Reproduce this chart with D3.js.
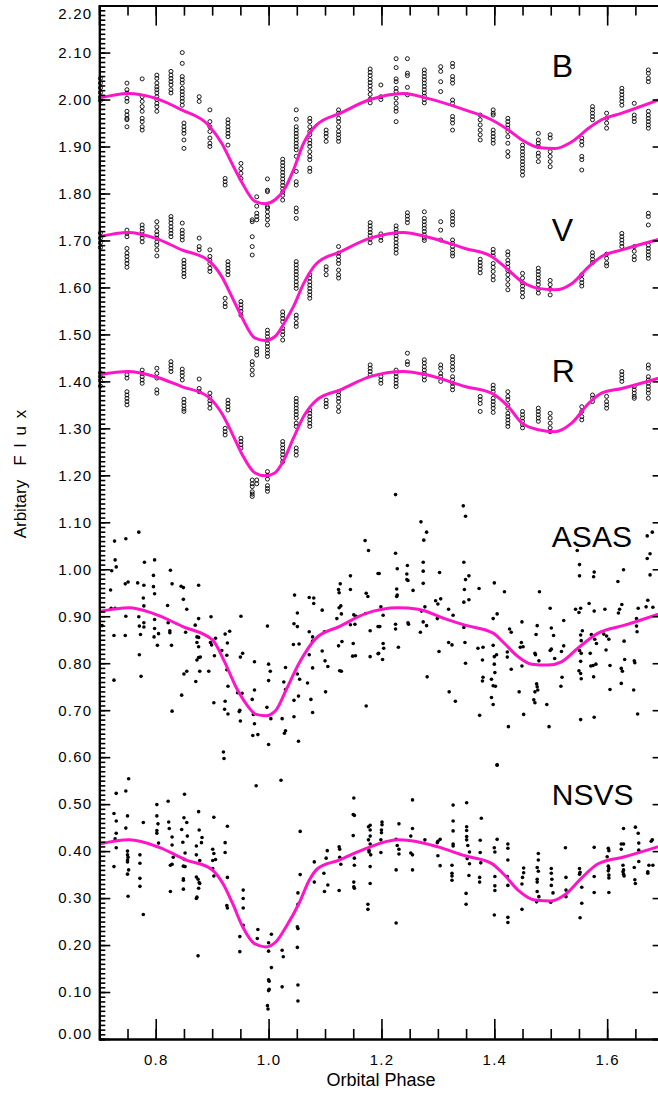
<!DOCTYPE html>
<html><head><meta charset="utf-8">
<script src="https://cdn.jsdelivr.net/npm/d3@7"></script>
<style>
body{margin:0;background:#fff}
svg{display:block}
text{font-family:"Liberation Sans",Arial,Helvetica,sans-serif}
</style>
</head><body>
<svg id="c" width="658" height="1095"></svg>
<script>
// ---------- DATA ----------
const xTickLabels = [0.8, 1.0, 1.2, 1.4, 1.6];
const yTickLabels = [0,0.1,0.2,0.3,0.4,0.5,0.6,0.7,0.8,0.9,1.0,1.1,1.2,1.3,1.4,1.5,1.6,1.7,1.8,1.9,2.0,2.1,2.2];

// nights of the B, V, R photometry (phase of each cluster)
const nightPhase = [0.702,0.749,0.776,0.802,0.827,0.847,0.850,0.877,0.896,0.923,0.928,0.951,0.971,0.979,0.998,1.025,1.049,1.073,1.102,1.124,1.180,1.199,1.226,1.246,1.276,1.305,1.326,1.375,1.398,1.424,1.450,1.478,1.499,1.555,1.574,1.599,1.626,1.648,1.673];

const bFlux = [
[2.045,2.035,2.025,2.015,2.005,1.998],
[2.035,2.021,2.014,2.003,1.996,1.975,1.967,1.960,1.957,1.942],
[2.044,2.006,1.996,1.985,1.975,1.960,1.953,1.942,1.935],
[2.052,2.045,2.035,2.027,2.021,2.014,2.006,2.000,1.992,1.985,1.975],
[2.060,2.052,2.045,2.038,2.031,2.021,2.014],
[2.100,2.077,2.049,2.042,2.035,2.024,2.017,2.010,2.003,1.996,1.988],
[1.950,1.942,1.935,1.928,1.914,1.896],
[2.006,1.996],
[1.978,1.953,1.942,1.932,1.918,1.907,1.900],
[1.832,1.825,1.818],
[1.957,1.950,1.942,1.935,1.928,1.921,1.903],
[1.864,1.853,1.843,1.832],
[1.744,1.740,1.708,1.687,1.669],
[1.793,1.773,1.758,1.751,1.744],
[1.831,1.807,1.804,1.772,1.769,1.761,1.752,1.744,1.733],
[1.873,1.866,1.859,1.852,1.845,1.838,1.831,1.824,1.817,1.810,1.803,1.796,1.786],
[1.978,1.958,1.942,1.935,1.928,1.921,1.914,1.907,1.900,1.893,1.879,1.847,1.825,1.818,1.769,1.761,1.747],
[1.960,1.953,1.942,1.932,1.925,1.914,1.907,1.900,1.889,1.879,1.872,1.854,1.847],
[1.935,1.928,1.921,1.911],
[1.978,1.971,1.960,1.953,1.942,1.932,1.925,1.918,1.911],
[2.065,2.058,2.051,2.043,2.036,2.029,2.021,2.011,2.001,1.993],
[2.031,2.006,2.000],
[2.087,2.068,2.044,2.038,2.024,2.017,2.003,1.992,1.982,1.975,1.953],
[2.087,2.056,2.051,2.026,2.010],
[2.063,2.056,2.049,2.042,2.035,2.028,2.021,2.014,2.007,2.000,1.993],
[2.070,2.060,2.038,2.017],
[2.077,2.070,2.049,2.042,2.035,1.999,1.992,1.964,1.957,1.950,1.935],
[1.967,1.957,1.946,1.935,1.925,1.914],
[1.978,1.971,1.967,1.935,1.928,1.921,1.914,1.907],
[1.960,1.953,1.946,1.939,1.932,1.921,1.907,1.889,1.879],
[1.903,1.896,1.889,1.882,1.875,1.868,1.861,1.854,1.847,1.839],
[1.928,1.914,1.907,1.900,1.886,1.879,1.868],
[1.925,1.918,1.889,1.879,1.868,1.857],
[1.918,1.911,1.903,1.879,1.872,1.850],
[1.985,1.978,1.971,1.964,1.957],
[1.971,1.960,1.950,1.939],
[2.024,2.017,2.010,2.003,1.996,1.988],
[1.992,1.967,1.960,1.953],
[2.063,2.056,2.045,2.038,1.975,1.967,1.960,1.953,1.946,1.939]
];

const vFlux = [
[1.716,1.705,1.695,1.685],
[1.722,1.715,1.708,1.683,1.673,1.666,1.658,1.651,1.643],
[1.733,1.726,1.719,1.712,1.705,1.697],
[1.740,1.729,1.719,1.712,1.705,1.697,1.690,1.680,1.667],
[1.751,1.744,1.737,1.729,1.722,1.715,1.708],
[1.737,1.722,1.715,1.708,1.701],
[1.658,1.651,1.644,1.637,1.630,1.623],
[1.705,1.687,1.680],
[1.680,1.666,1.658,1.651,1.641,1.634],
[1.577,1.566,1.559],
[1.655,1.648,1.641,1.634,1.627],
[1.570,1.563,1.556,1.549,1.541],
[1.442,1.435,1.424,1.414],
[1.470,1.463,1.456],
[1.509,1.502,1.495,1.488,1.481,1.474,1.467,1.460,1.453],
[1.548,1.541,1.534,1.527,1.513,1.506,1.499,1.488],
[1.655,1.648,1.641,1.634,1.627,1.620,1.612,1.605,1.598,1.541,1.534,1.524,1.517],
[1.627,1.620,1.612,1.605,1.598,1.591,1.584,1.577],
[1.644,1.637,1.627],
[1.687,1.673,1.666,1.658,1.651,1.637,1.627,1.620],
[1.738,1.731,1.724,1.717,1.710,1.703,1.695],
[1.714,1.707,1.700],
[1.731,1.724,1.717,1.710,1.703,1.695,1.688,1.681,1.673],
[1.759,1.752,1.745,1.738],
[1.761,1.747,1.740,1.733,1.726,1.719,1.712,1.705,1.700],
[1.740,1.722,1.701],
[1.761,1.754,1.747,1.740,1.733,1.701,1.694,1.687,1.680,1.673,1.667],
[1.660,1.653,1.646,1.639,1.631],
[1.681,1.674,1.667,1.651,1.643,1.634,1.624,1.616],
[1.676,1.669,1.658,1.651,1.643,1.636,1.627,1.617,1.606,1.595],
[1.630,1.620,1.610,1.603,1.596,1.589,1.580],
[1.641,1.634,1.627,1.620,1.613,1.606,1.596,1.588],
[1.615,1.606,1.596,1.584],
[1.627,1.617,1.610,1.603],
[1.674,1.667,1.660,1.653],
[1.671,1.662,1.652,1.646],
[1.715,1.708,1.701,1.694,1.687],
[1.687,1.677,1.666,1.659],
[1.758,1.751,1.733,1.690,1.683,1.676,1.669,1.662]
];

const rFlux = [
[1.418,1.410,1.402,1.390],
[1.414,1.407,1.378,1.371,1.364,1.357,1.350],
[1.424,1.417,1.410,1.403,1.396],
[1.428,1.417,1.407,1.382,1.375],
[1.442,1.435,1.428,1.421],
[1.426,1.419,1.412,1.403],
[1.362,1.355,1.348,1.341,1.336],
[1.405,1.385,1.378],
[1.375,1.366,1.359,1.352,1.343],
[1.300,1.293,1.286],
[1.360,1.353,1.346,1.339],
[1.279,1.272,1.265,1.258],
[1.190,1.182,1.176,1.165,1.160,1.155],
[1.190,1.182],
[1.208,1.200,1.192,1.178,1.172,1.166],
[1.272,1.265,1.258,1.251,1.244,1.237,1.229],
[1.364,1.357,1.350,1.343,1.336,1.329,1.322,1.311,1.304,1.258,1.251,1.243],
[1.339,1.332,1.325,1.318,1.311,1.304],
[1.360,1.353,1.346],
[1.378,1.371,1.364,1.357,1.346,1.336],
[1.435,1.428,1.421,1.414],
[1.410,1.403,1.396],
[1.424,1.417,1.410,1.403,1.396,1.389],
[1.460,1.442,1.436],
[1.446,1.439,1.431,1.424,1.417,1.410,1.403],
[1.435,1.428,1.417,1.410,1.400],
[1.453,1.446,1.439,1.431,1.424,1.410,1.403,1.396,1.389,1.382],
[1.368,1.361,1.353,1.336],
[1.392,1.385,1.378,1.364,1.357,1.350,1.343,1.334],
[1.378,1.368,1.361,1.350,1.343,1.332,1.325,1.318,1.311,1.304],
[1.336,1.329,1.322,1.315,1.308,1.301],
[1.343,1.336,1.329,1.322,1.315],
[1.332,1.322,1.311,1.301,1.293],
[1.346,1.336,1.325,1.318],
[1.371,1.364,1.357],
[1.368,1.357,1.350,1.343],
[1.421,1.414,1.407,1.400],
[1.389,1.382,1.375,1.368,1.364],
[1.435,1.428,1.410,1.403,1.396,1.389,1.382,1.375,1.364]
];

// ASAS [phase, flux]
const asasPoints = [
[0.727,1.060],[0.747,1.065],[0.770,1.079],[0.728,1.020],[0.730,1.005],[0.722,0.997],[0.780,1.015],[0.798,1.020],[0.826,0.998],
[0.746,0.969],[0.751,0.973],[0.768,0.971],[0.779,0.966],[0.796,0.987],[0.796,0.963],[0.829,0.969],[0.845,0.964],[0.849,0.961],
[0.876,0.966],[0.720,0.956],[0.778,0.939],[0.798,0.948],[0.849,0.936],[0.821,0.923],[0.855,0.915],[0.721,0.917],[0.728,0.917],
[0.779,0.922],[0.747,0.900],[0.770,0.899],[0.798,0.893],[0.876,0.895],[0.898,0.899],[0.951,0.900],[0.705,0.880],[0.771,0.879],
[0.779,0.886],[0.779,0.877],[0.798,0.874],[0.822,0.886],[0.825,0.869],[0.825,0.865],[0.853,0.866],[0.870,0.881],[0.726,0.859],
[0.746,0.859],[0.773,0.861],[0.797,0.856],[0.805,0.863],[0.873,0.856],[0.876,0.855],[0.803,0.838],[0.828,0.838],[0.873,0.844],
[0.876,0.835],[0.897,0.844],[0.899,0.839],[0.906,0.853],[0.923,0.862],[0.931,0.868],[0.927,0.843],[0.771,0.818],[0.917,0.827],
[0.926,0.817],[0.904,0.816],[0.950,0.813],[0.954,0.821],[0.873,0.807],[0.876,0.812],[0.879,0.813],[0.975,0.803],[1.000,0.798],
[1.003,0.783],[0.926,0.786],[0.894,0.783],[0.878,0.783],[0.855,0.783],[0.850,0.777],[0.726,0.764],[0.774,0.772],[0.871,0.761],
[0.928,0.751],[0.945,0.737],[0.953,0.736],[0.975,0.743],[1.000,0.763],[0.846,0.732],[0.903,0.716],[0.923,0.719],[0.922,0.702],
[0.928,0.692],[0.949,0.700],[0.948,0.697],[0.971,0.723],[0.950,0.677],[0.973,0.691],[0.975,0.671],[0.997,0.706],[1.004,0.682],
[0.829,0.698],[0.972,0.646],[0.981,0.648],[1.000,0.627],[1.024,0.682],[1.030,0.656],[1.028,0.651],[1.053,0.634],[1.045,0.686],
[0.920,0.611],[0.921,0.597],[0.998,0.879],[1.046,0.945],[1.051,0.907],[1.045,0.884],[1.051,0.878],[1.044,0.840],[1.054,0.841],
[1.030,0.791],[1.030,0.744],[1.027,0.760],[1.051,0.777],[1.055,0.766],[1.053,0.730],[1.045,0.721],[1.069,0.758],[1.078,0.790],
[1.072,0.818],[1.075,0.723],[1.078,0.695],[1.101,0.739],[1.072,0.940],[1.080,0.939],[1.080,0.927],[1.095,0.913],[1.072,0.867],
[1.078,0.856],[1.078,0.847],[1.095,0.826],[1.100,0.805],[1.105,0.793],[1.099,0.867],[1.126,0.784],[1.129,0.783],[1.124,0.837],
[1.130,0.846],[1.121,0.895],[1.125,0.918],[1.128,0.922],[1.129,0.905],[1.145,0.882],[1.151,0.903],[1.155,0.900],[1.153,0.883],
[1.150,0.842],[1.149,0.815],[1.154,0.816],[1.180,0.814],[1.194,0.820],[1.180,0.869],[1.194,0.878],[1.172,0.906],[1.173,0.949],
[1.176,0.942],[1.145,0.957],[1.145,0.986],[1.125,0.950],[1.127,0.969],[1.124,0.957],[1.171,1.061],[1.177,1.040],[1.194,0.991],
[1.173,0.709],
[1.225,1.159],[1.345,1.135],[1.349,1.113],[1.270,1.101],[1.280,1.079],[1.275,1.062],[1.225,1.034],[1.228,1.001],[1.246,1.008],
[1.245,0.990],[1.245,0.978],[1.247,0.976],[1.274,1.015],[1.274,0.996],[1.303,0.993],[1.274,0.970],[1.346,1.015],[1.349,0.978],
[1.355,0.986],[1.347,0.957],[1.373,0.959],[1.400,0.971],[1.418,0.952],[1.480,0.952],[1.227,0.958],[1.228,0.945],[1.227,0.942],
[1.256,0.955],[1.196,0.991],[1.296,0.933],[1.305,0.937],[1.300,0.926],[1.346,0.930],[1.355,0.935],[1.199,0.920],[1.203,0.902],
[1.197,0.878],[1.225,0.883],[1.225,0.873],[1.247,0.886],[1.248,0.883],[1.271,0.911],[1.277,0.920],[1.274,0.888],[1.280,0.880],
[1.299,0.895],[1.300,0.898],[1.319,0.915],[1.327,0.902],[1.346,0.876],[1.398,0.895],[1.405,0.905],[1.269,0.866],[1.203,0.842],
[1.204,0.832],[1.195,0.821],[1.202,0.808],[1.230,0.834],[1.302,0.825],[1.319,0.844],[1.325,0.839],[1.348,0.844],[1.371,0.832],
[1.380,0.834],[1.398,0.838],[1.349,0.800],[1.379,0.807],[1.404,0.818],[1.400,0.814],[1.400,0.798],[1.401,0.780],[1.380,0.770],
[1.379,0.762],[1.395,0.766],[1.398,0.752],[1.402,0.751],[1.395,0.727],[1.398,0.712],[1.374,0.689],[1.281,0.771],[1.320,0.739],
[1.331,0.719],[1.427,0.873],[1.430,0.866],[1.449,0.888],[1.476,0.880],[1.474,0.861],[1.448,0.844],[1.446,0.834],[1.451,0.835],
[1.472,0.821],[1.473,0.818],[1.479,0.805],[1.499,0.917],[1.501,0.875],[1.505,0.859],[1.501,0.830],[1.499,0.827],[1.507,0.810],
[1.523,0.891],[1.523,0.837],[1.519,0.825],[1.423,0.824],[1.423,0.813],[1.430,0.787],[1.449,0.794],[1.444,0.739],[1.425,0.665],
[1.452,0.691],[1.497,0.665],[1.493,0.712],[1.475,0.756],[1.476,0.750],[1.472,0.739],[1.470,0.722],[1.472,0.716],[1.477,0.743],
[1.520,0.770],[1.518,0.751],[1.547,1.040],[1.551,1.010],[1.551,0.986],[1.544,0.915],[1.550,0.908],[1.553,0.917],[1.568,0.927],
[1.577,0.994],[1.576,0.984],[1.577,0.911],[1.596,0.915],[1.556,0.869],[1.553,0.860],[1.554,0.848],[1.572,0.861],[1.578,0.851],
[1.581,0.842],[1.594,0.862],[1.599,0.858],[1.603,0.851],[1.551,0.827],[1.554,0.821],[1.553,0.804],[1.570,0.821],[1.571,0.794],
[1.575,0.795],[1.580,0.798],[1.605,0.795],[1.631,0.808],[1.550,0.784],[1.553,0.778],[1.554,0.767],[1.576,0.771],[1.605,0.744],
[1.625,0.789],[1.627,0.783],[1.648,0.805],[1.649,0.801],[1.625,0.757],[1.647,0.743],[1.654,0.692],[1.553,0.680],[1.577,0.685],
[1.598,0.828],[1.619,0.974],[1.629,0.999],[1.620,0.907],[1.622,0.915],[1.626,0.925],[1.655,0.917],[1.669,0.920],[1.681,0.919],
[1.671,1.071],[1.680,1.079],[1.676,1.033],[1.671,1.023],[1.676,0.988],[1.672,0.934],[1.652,0.895],[1.652,0.879],[1.653,0.867],
[1.630,0.847],[1.405,0.583]
];

// NSVS [phase, flux]
const nsvsPoints = [
[0.752,0.554],[0.747,0.528],[0.730,0.523],[0.726,0.480],[0.730,0.464],[0.750,0.475],[0.747,0.449],[0.730,0.438],[0.728,0.426],
[0.730,0.407],[0.726,0.367],[0.750,0.400],[0.750,0.392],[0.751,0.387],[0.750,0.381],[0.750,0.377],[0.752,0.360],[0.750,0.351],
[0.751,0.304],[0.772,0.392],[0.772,0.374],[0.772,0.342],[0.772,0.325],[0.778,0.461],[0.778,0.265],[0.802,0.499],[0.802,0.475],
[0.804,0.458],[0.802,0.444],[0.802,0.438],[0.805,0.417],[0.822,0.506],[0.823,0.462],[0.824,0.448],[0.829,0.430],[0.829,0.413],
[0.831,0.387],[0.829,0.372],[0.826,0.370],[0.826,0.314],[0.851,0.521],[0.850,0.471],[0.855,0.461],[0.846,0.446],[0.856,0.432],
[0.848,0.419],[0.852,0.396],[0.851,0.382],[0.849,0.368],[0.852,0.367],[0.849,0.341],[0.849,0.338],[0.849,0.319],[0.876,0.484],
[0.877,0.445],[0.882,0.429],[0.881,0.418],[0.872,0.411],[0.872,0.392],[0.878,0.380],[0.872,0.345],[0.875,0.340],[0.877,0.333],
[0.878,0.331],[0.876,0.321],[0.873,0.302],[0.872,0.299],[0.875,0.177],[0.903,0.472],[0.901,0.404],[0.903,0.395],[0.906,0.382],
[0.901,0.380],[0.901,0.363],[0.903,0.347],[0.927,0.453],[0.923,0.418],[0.923,0.397],[0.927,0.344],[0.926,0.284],[0.927,0.279],
[0.955,0.317],[0.955,0.299],[0.955,0.279],[0.955,0.242],[0.949,0.218],[0.949,0.186],[0.978,0.539],[1.022,0.551],[0.981,0.233],
[0.980,0.214],[1.000,0.205],[1.000,0.187],[1.005,0.223],[1.005,0.152],[1.000,0.126],[1.001,0.123],[1.001,0.106],[1.000,0.103],
[0.998,0.071],[0.999,0.064],[1.024,0.189],[1.026,0.175],[1.024,0.111],[1.052,0.311],[1.052,0.287],[1.056,0.442],[1.056,0.350],
[1.051,0.239],[1.052,0.235],[1.051,0.195],[1.052,0.115],[1.052,0.081],[1.081,0.377],[1.081,0.334],[1.104,0.401],[1.102,0.385],
[1.098,0.353],[1.105,0.328],[1.099,0.314],[1.125,0.409],[1.126,0.404],[1.126,0.387],[1.128,0.372],[1.125,0.316],[1.151,0.513],
[1.150,0.478],[1.152,0.476],[1.150,0.433],[1.152,0.385],[1.152,0.370],[1.151,0.334],[1.151,0.324],[1.152,0.321],[1.177,0.452],
[1.180,0.455],[1.180,0.445],[1.180,0.432],[1.177,0.424],[1.180,0.415],[1.178,0.402],[1.178,0.398],[1.181,0.392],[1.180,0.367],
[1.180,0.331],[1.176,0.287],[1.176,0.276],
[1.405,0.584],[1.201,0.462],[1.201,0.456],[1.200,0.445],[1.200,0.439],[1.199,0.424],[1.199,0.397],[1.231,0.458],[1.226,0.425],
[1.228,0.412],[1.231,0.404],[1.231,0.394],[1.226,0.360],[1.226,0.247],[1.252,0.432],[1.255,0.448],[1.252,0.396],[1.255,0.392],
[1.255,0.360],[1.255,0.509],[1.277,0.424],[1.300,0.421],[1.299,0.418],[1.304,0.425],[1.300,0.390],[1.304,0.369],[1.327,0.498],
[1.327,0.464],[1.327,0.443],[1.327,0.415],[1.327,0.411],[1.325,0.370],[1.325,0.353],[1.325,0.347],[1.325,0.338],[1.351,0.503],
[1.351,0.452],[1.351,0.444],[1.351,0.431],[1.351,0.424],[1.353,0.412],[1.356,0.398],[1.352,0.384],[1.356,0.373],[1.355,0.348],
[1.350,0.310],[1.350,0.287],[1.377,0.470],[1.375,0.423],[1.375,0.397],[1.376,0.375],[1.374,0.344],[1.374,0.334],[1.400,0.407],
[1.405,0.425],[1.401,0.398],[1.401,0.346],[1.401,0.326],[1.401,0.316],[1.400,0.264],[1.424,0.415],[1.424,0.406],[1.424,0.381],
[1.423,0.346],[1.424,0.327],[1.424,0.259],[1.424,0.248],[1.452,0.364],[1.452,0.354],[1.450,0.344],[1.449,0.330],[1.449,0.276],
[1.478,0.395],[1.478,0.381],[1.476,0.365],[1.478,0.357],[1.476,0.340],[1.476,0.334],[1.476,0.314],[1.479,0.303],[1.475,0.292],
[1.501,0.363],[1.501,0.353],[1.502,0.340],[1.501,0.327],[1.504,0.311],[1.500,0.291],[1.526,0.407],[1.527,0.344],[1.527,0.317],
[1.527,0.303],[1.551,0.363],[1.552,0.355],[1.551,0.351],[1.555,0.323],[1.555,0.289],[1.552,0.258],[1.577,0.408],[1.577,0.346],
[1.577,0.312],[1.602,0.406],[1.603,0.401],[1.600,0.388],[1.602,0.368],[1.603,0.363],[1.602,0.358],[1.603,0.349],[1.603,0.343],
[1.603,0.312],[1.625,0.404],[1.625,0.415],[1.629,0.448],[1.629,0.415],[1.628,0.370],[1.629,0.360],[1.628,0.356],[1.629,0.351],
[1.630,0.347],[1.648,0.365],[1.649,0.339],[1.650,0.331],[1.650,0.451],[1.655,0.438],[1.656,0.417],[1.656,0.402],[1.656,0.378],
[1.680,0.424],[1.678,0.421],[1.674,0.370],[1.672,0.356],[1.672,0.353],[1.681,0.370]
];

// model light curves [phase, flux]
const bModel = [[0.70,2.003],[0.751,2.013],[0.799,2.003],[0.846,1.978],[0.893,1.946],[0.917,1.907],[0.935,1.864],[0.952,1.825],[0.976,1.783],[0.994,1.778],[1.011,1.786],[1.029,1.811],[1.044,1.850],[1.062,1.907],[1.085,1.946],[1.127,1.971],[1.180,2.000],[1.239,2.013],[1.280,2.003],[1.348,1.978],[1.395,1.957],[1.425,1.935],[1.449,1.914],[1.478,1.898],[1.508,1.896],[1.537,1.910],[1.567,1.939],[1.590,1.957],[1.626,1.971],[1.70,2.003]];
const vModel = [[0.70,1.708],[0.751,1.717],[0.799,1.705],[0.846,1.680],[0.893,1.658],[0.917,1.623],[0.935,1.580],[0.952,1.538],[0.976,1.492],[0.994,1.487],[1.011,1.495],[1.029,1.527],[1.044,1.559],[1.062,1.608],[1.085,1.651],[1.127,1.676],[1.180,1.705],[1.239,1.717],[1.280,1.708],[1.348,1.683],[1.395,1.666],[1.425,1.637],[1.449,1.612],[1.478,1.598],[1.508,1.595],[1.537,1.608],[1.567,1.644],[1.590,1.666],[1.626,1.680],[1.70,1.705]];
const rModel = [[0.70,1.414],[0.751,1.421],[0.799,1.410],[0.846,1.389],[0.893,1.367],[0.917,1.332],[0.935,1.290],[0.952,1.247],[0.976,1.205],[0.994,1.199],[1.011,1.205],[1.026,1.230],[1.044,1.279],[1.062,1.325],[1.085,1.360],[1.127,1.382],[1.180,1.410],[1.239,1.421],[1.280,1.414],[1.348,1.389],[1.395,1.375],[1.425,1.346],[1.449,1.311],[1.478,1.297],[1.508,1.293],[1.537,1.311],[1.567,1.353],[1.590,1.375],[1.626,1.385],[1.70,1.410]];
const asasModel = [[0.70,0.910],[0.753,0.918],[0.795,0.906],[0.848,0.878],[0.901,0.849],[0.922,0.803],[0.942,0.750],[0.960,0.714],[0.978,0.691],[0.995,0.688],[1.013,0.700],[1.031,0.743],[1.054,0.800],[1.084,0.853],[1.125,0.878],[1.173,0.906],[1.229,0.918],[1.265,0.915],[1.312,0.895],[1.348,0.881],[1.398,0.864],[1.418,0.842],[1.442,0.814],[1.466,0.798],[1.495,0.796],[1.519,0.803],[1.548,0.832],[1.584,0.864],[1.631,0.881],[1.70,0.908]];
const nsvsModel = [[0.70,0.415],[0.753,0.424],[0.806,0.408],[0.854,0.381],[0.898,0.362],[0.919,0.331],[0.936,0.289],[0.954,0.239],[0.975,0.203],[0.995,0.196],[1.013,0.207],[1.031,0.239],[1.054,0.289],[1.072,0.338],[1.087,0.363],[1.125,0.381],[1.173,0.406],[1.229,0.424],[1.253,0.422],[1.300,0.409],[1.348,0.390],[1.395,0.374],[1.418,0.349],[1.442,0.317],[1.472,0.296],[1.501,0.294],[1.525,0.307],[1.554,0.342],[1.584,0.373],[1.631,0.388],[1.70,0.413]];

const bandNames = ["B","V","R","ASAS","NSVS"];
const bandLabelFlux = [2.049, 1.699, 1.399, 1.0475, 0.498];

// ---------- CHART ----------
const svg = d3.select("#c");
const x = d3.scaleLinear().domain([0.7, 1.7]).range([99.3, 663.6]);
const y = d3.scaleLinear().domain([0, 2.2]).range([1039, 5.6]);
const fmtY = d3.format(".2f"), fmtX = d3.format(".1f");

// open-circle photometry
const flat = (fl) => fl.flatMap((arr, i) => arr.map(v => [nightPhase[i], v]));
const gPts = svg.append("g");
[bFlux, vFlux, rFlux].forEach(fl => {
  gPts.append("g").selectAll("circle").data(flat(fl)).join("circle")
    .attr("cx", d => x(d[0])).attr("cy", d => y(d[1])).attr("r", 2)
    .attr("fill", "none").attr("stroke", "#000").attr("stroke-width", 0.9);
});
[asasPoints, nsvsPoints].forEach(pts => {
  gPts.append("g").selectAll("circle").data(pts).join("circle")
    .attr("cx", d => x(d[0])).attr("cy", d => y(d[1])).attr("r", 1.8)
    .attr("fill", "#000");
});

// model curves
const line = d3.line().x(d => x(d[0])).y(d => y(d[1])).curve(d3.curveMonotoneX);
[bModel, vModel, rModel, asasModel, nsvsModel].forEach(m => {
  svg.append("path").attr("d", line(m)).attr("fill", "none")
    .attr("stroke", "#ff14c8").attr("stroke-width", 3).attr("stroke-linejoin", "round");
});

// axes
const yMinor = d3.range(0, 221).map(i => i / 100);
const xMinor = d3.range(0, 21).map(i => 0.7 + i * 0.05);
const styleAxis = g => {
  g.selectAll("path.domain").attr("stroke", "#000").attr("stroke-width", 2);
  g.selectAll(".tick line").attr("stroke", "#000").attr("stroke-width", 1.6);
  g.selectAll(".tick text").attr("fill", "#000").attr("font-size", 15)
    .attr("letter-spacing", "1.2px").attr("font-family", '"Liberation Sans",Arial,sans-serif');
};
// left
svg.append("g").attr("transform", `translate(${x(0.7)},0)`)
  .call(d3.axisLeft(y).tickValues(yMinor).tickSize(-6).tickFormat("")).call(styleAxis);
const gl = svg.append("g").attr("transform", `translate(${x(0.7)},0)`)
  .call(d3.axisLeft(y).tickValues(yTickLabels).tickSizeInner(-11).tickSizeOuter(0).tickPadding(7).tickFormat(fmtY))
  .call(styleAxis);
// keep the end labels inside the picture, as in the original
gl.selectAll(".tick text").filter(d => d === 2.2).attr("dy", "0.85em");
gl.selectAll(".tick text").filter(d => d === 0).attr("dy", "-0.05em");
// right (major ticks only)
svg.append("g").attr("transform", `translate(${x(1.7)},0)`)
  .call(d3.axisRight(y).tickValues(yTickLabels).tickSize(-11).tickFormat("")).call(styleAxis);
// bottom
svg.append("g").attr("transform", `translate(0,${y(0)})`)
  .call(d3.axisBottom(x).tickValues(xMinor).tickSize(-10).tickFormat("")).call(styleAxis);
svg.append("g").attr("transform", `translate(0,${y(0)})`)
  .call(d3.axisBottom(x).tickValues(xTickLabels).tickSizeInner(-20).tickSizeOuter(0).tickPadding(15).tickFormat(fmtX))
  .call(styleAxis);
// top
svg.append("g").attr("transform", `translate(0,${y(2.2)})`)
  .call(d3.axisTop(x).tickValues(xMinor).tickSize(-10).tickFormat("")).call(styleAxis);
svg.append("g").attr("transform", `translate(0,${y(2.2)})`)
  .call(d3.axisTop(x).tickValues(xTickLabels).tickSize(-20).tickFormat("")).call(styleAxis);

// band labels
svg.append("g").selectAll("text").data(bandNames).join("text")
  .attr("x", x(1.502)).attr("y", (d, i) => y(bandLabelFlux[i]))
  .attr("font-size", (d, i) => i < 3 ? 32 : 30).attr("fill", "#000")
  .text(d => d);

// axis titles
svg.append("text").attr("x", 381).attr("y", 1086).attr("text-anchor", "middle")
  .attr("font-size", 18).text("Orbital Phase");
const yt = svg.append("text").attr("transform", "translate(26,470) rotate(-90)")
  .attr("text-anchor", "middle").attr("font-size", 17);
yt.append("tspan").text("Arbitary");
yt.append("tspan").attr("dx", 14).attr("letter-spacing", "8px").text("Flux");
</script>
</body></html>
